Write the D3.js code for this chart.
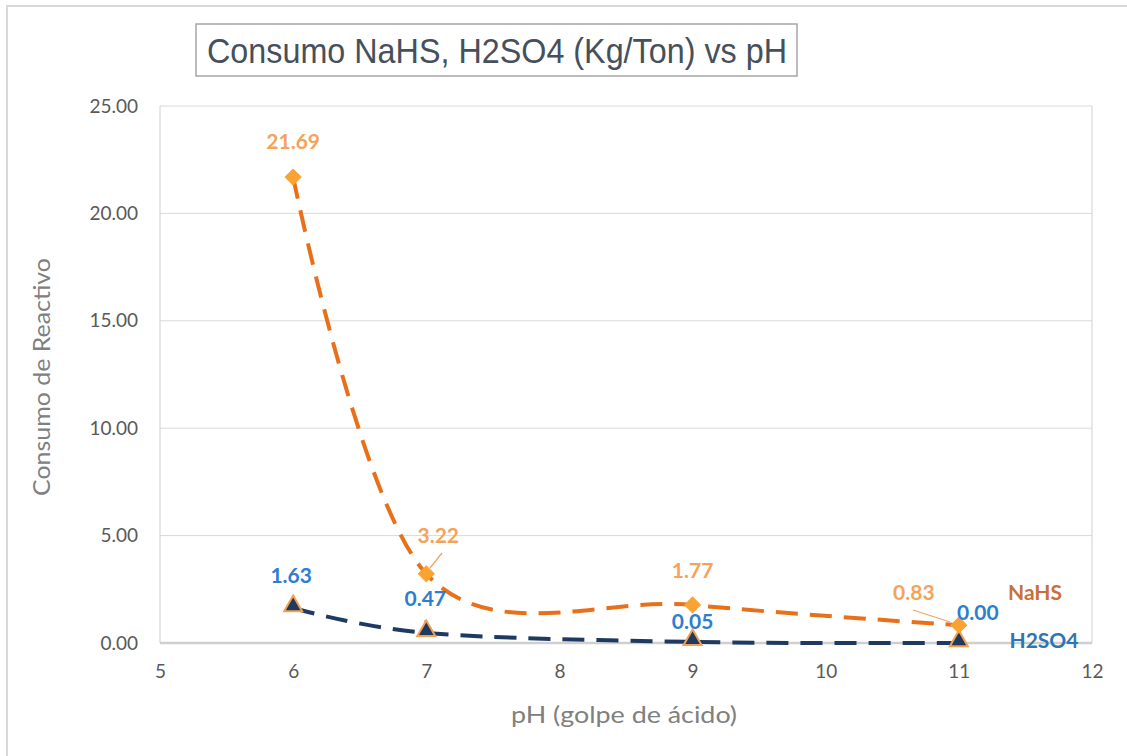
<!DOCTYPE html>
<html><head><meta charset="utf-8">
<script src="https://cdn.jsdelivr.net/npm/d3@7"></script>
<style>body{margin:0;background:#fff}svg{display:block}</style>
</head><body>
<svg id="c" width="1127" height="756"></svg>
<script>
const phValues = [6, 7, 9, 11];
const nahs = [21.69, 3.22, 1.77, 0.83];
const h2so4 = [1.63, 0.47, 0.05, 0.00];
const xTicks = [5, 6, 7, 8, 9, 10, 11, 12];
const yTicks = [0, 5, 10, 15, 20, 25];
const seriesNames = ["NaHS", "H2SO4"];

const svg = d3.select("#c");
const m = {l:160, r:1092, t:106, b:643};
const x = d3.scaleLinear().domain([5,12]).range([m.l, m.r]);
const y = d3.scaleLinear().domain([0,25]).range([m.b, m.t]);

svg.append("rect").attr("x",7).attr("y",6).attr("width",1140).attr("height",780)
  .attr("fill","#fff").attr("stroke","#d9d9d9").attr("stroke-width",2);

// grid
svg.append("g").selectAll("line").data(yTicks.filter(d=>d>0)).join("line")
  .attr("x1",m.l).attr("x2",m.r).attr("y1",d=>y(d)).attr("y2",d=>y(d))
  .attr("stroke","#d9d9d9").attr("stroke-width",1);
svg.append("line").attr("x1",m.l).attr("x2",m.l).attr("y1",m.t).attr("y2",m.b).attr("stroke","#d0d0d0");
svg.append("line").attr("x1",m.r).attr("x2",m.r).attr("y1",m.t).attr("y2",m.b).attr("stroke","#d0d0d0");
svg.append("line").attr("x1",m.l).attr("x2",m.r).attr("y1",m.b).attr("y2",m.b).attr("stroke","#cfcfcf").attr("stroke-width",2.5);

const tickFont = "Lato, 'Open Sans', sans-serif";
// axes
const yAxis = d3.axisLeft(y).tickValues(yTicks).tickFormat(d3.format(".2f")).tickSize(0).tickPadding(22);
const gy = svg.append("g").attr("transform",`translate(${m.l},0)`).call(yAxis);
gy.select(".domain").remove();
gy.selectAll("text").attr("font-family",tickFont).attr("font-size",19).attr("fill","#595959");
const xAxis = d3.axisBottom(x).tickValues(xTicks).tickFormat(d3.format("d")).tickSize(0).tickPadding(22);
const gx = svg.append("g").attr("transform",`translate(0,${m.b})`).call(xAxis);
gx.select(".domain").remove();
gx.selectAll("text").attr("font-family",tickFont).attr("font-size",19).attr("fill","#595959");

// axis titles
svg.append("text").attr("x",624).attr("y",723).attr("text-anchor","middle")
  .attr("font-family",tickFont).attr("font-size",23).attr("fill","#808080")
  .attr("textLength",226).attr("lengthAdjust","spacingAndGlyphs")
  .text("pH (golpe de ácido)");
svg.append("text").attr("transform","translate(50,377) rotate(-90)").attr("text-anchor","middle")
  .attr("font-family",tickFont).attr("font-size",23).attr("fill","#808080")
  .attr("textLength",238).attr("lengthAdjust","spacingAndGlyphs")
  .text("Consumo de Reactivo");

// title
svg.append("rect").attr("x",196).attr("y",24).attr("width",601).attr("height",52)
  .attr("fill","#fff").attr("stroke","#a6a6a6").attr("stroke-width",1.5);
svg.append("text").attr("x",207).attr("y",63).attr("textLength",580).attr("lengthAdjust","spacingAndGlyphs")
  .attr("font-family","'Liberation Sans Narrow', 'Liberation Sans', Arial, sans-serif").attr("font-size",35).attr("fill","#46505c")
  .text("Consumo NaHS, H2SO4 (Kg/Ton) vs pH");

const line = d3.line().x(d=>x(d[0])).y(d=>y(d[1])).curve(d3.curveCardinal.tension(0));
const dN = phValues.map((p,i)=>[p,nahs[i]]);
const dH = phValues.map((p,i)=>[p,h2so4[i]]);

svg.append("path").datum(dH).attr("d",line).attr("fill","none")
  .attr("stroke","#1f3a60").attr("stroke-width",4).attr("stroke-dasharray","22,12");
svg.append("path").datum(dN).attr("d",line).attr("fill","none")
  .attr("stroke","#e8701a").attr("stroke-width",4).attr("stroke-dasharray","22,12");

// leader lines
const leaders = [
  [442,553,430,568,"#f4a460"],
  [913,610,950,622,"#f4a460"],
  [425,620,425,629,"#a0a0a0"]
];
svg.append("g").selectAll("line").data(leaders).join("line")
  .attr("x1",d=>d[0]).attr("y1",d=>d[1]).attr("x2",d=>d[2]).attr("y2",d=>d[3])
  .attr("stroke",d=>d[4]).attr("stroke-width",1.3);

// markers
const tri = d3.symbol().type(d3.symbolTriangle).size(140);
svg.append("g").selectAll("path").data(dH).join("path")
  .attr("d",tri).attr("transform",d=>`translate(${x(d[0])},${y(d[1])-2})`)
  .attr("fill","#1f3a60").attr("stroke","#f4a050").attr("stroke-width",2);
const sq = d3.symbol().type(d3.symbolSquare).size(125);
svg.append("g").selectAll("path").data(dN).join("path")
  .attr("d",sq).attr("transform",d=>`translate(${x(d[0])},${y(d[1])}) rotate(45)`)
  .attr("fill","#f9a333").attr("stroke","#f9a333").attr("stroke-width",1);

// data labels
const nOff = [[0,-28],[12,-31],[0,-27],[-45,-25]];
const hOff = [[-2,-25],[-1,-27],[0,-13],[19,-23]];
const lblFont = "Lato, 'Open Sans', sans-serif";
svg.append("g").selectAll("text").data(dN).join("text")
  .attr("x",(d,i)=>x(d[0])+nOff[i][0]).attr("y",(d,i)=>y(d[1])+nOff[i][1])
  .attr("text-anchor","middle").attr("font-family",lblFont).attr("font-weight","bold")
  .attr("font-size",21).attr("fill","#f5a35a").text(d=>d3.format(".2f")(d[1]));
svg.append("g").selectAll("text").data(dH).join("text")
  .attr("x",(d,i)=>x(d[0])+hOff[i][0]).attr("y",(d,i)=>y(d[1])+hOff[i][1])
  .attr("text-anchor","middle").attr("font-family",lblFont).attr("font-weight","bold")
  .attr("font-size",21).attr("fill","#2e7dd0").text(d=>d3.format(".2f")(d[1]));

// series name labels
svg.append("text").attr("x",1035).attr("y",600).attr("text-anchor","middle")
  .attr("font-family",lblFont).attr("font-weight","bold").attr("font-size",21).attr("fill","#c8703a").text(seriesNames[0]);
svg.append("text").attr("x",1044).attr("y",648).attr("text-anchor","middle")
  .attr("font-family",lblFont).attr("font-weight","bold").attr("font-size",21).attr("fill","#2e75b6").text(seriesNames[1]);
</script>
</body></html>
